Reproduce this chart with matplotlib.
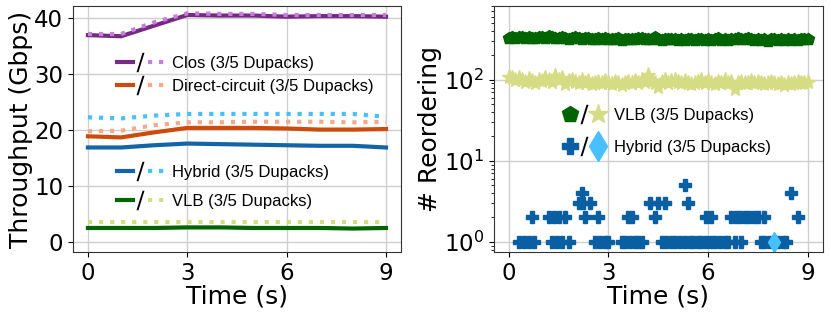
import matplotlib
matplotlib.use("Agg")
import matplotlib.pyplot as plt
from matplotlib.lines import Line2D
from matplotlib.legend_handler import HandlerTuple

# throughput over time (left)
t_sec = [0, 1, 2, 3, 4, 5, 6, 7, 8, 9]
clos_3 = [37.0, 36.8, 38.7, 40.6, 40.5, 40.5, 40.3, 40.4, 40.4, 40.3]
clos_5 = [37.2, 37.2, 39.3, 40.9, 40.8, 40.8, 40.6, 40.6, 40.6, 40.6]
dc_3 = [18.9, 18.7, 19.6, 20.4, 20.4, 20.4, 20.3, 20.1, 20.1, 20.2]
dc_5 = [19.8, 19.9, 20.9, 21.4, 21.4, 21.5, 21.5, 21.5, 21.4, 21.5]
hyb_3 = [16.9, 16.9, 17.3, 17.6, 17.5, 17.4, 17.3, 17.2, 17.2, 16.9]
hyb_5 = [22.3, 22.1, 22.6, 22.9, 22.9, 22.9, 22.9, 22.9, 22.9, 22.4]
vlb_3 = [2.5, 2.5, 2.5, 2.6, 2.6, 2.5, 2.5, 2.5, 2.4, 2.5]
vlb_5 = [3.6, 3.6, 3.6, 3.6, 3.6, 3.6, 3.6, 3.6, 3.6, 3.6]

# reordering counts (right)
t_vlb = [i / 10 for i in range(91)]
reord_vlb_3 = [325, 335, 330, 340, 332, 328, 336, 330, 325, 334,
               338, 330, 345, 333, 328, 330, 336, 326, 322, 330,
               335, 328, 318, 325, 330, 322, 316, 325, 320, 328,
               315, 322, 318, 326, 312, 320, 316, 322, 318, 325,
               330, 318, 314, 320, 335, 318, 312, 320, 316, 322,
               318, 310, 318, 312, 320, 316, 308, 314, 320, 312,
               318, 310, 322, 330, 305, 318, 312, 322, 316, 326,
               320, 314, 325, 318, 312, 320, 310, 316, 300, 322,
               318, 312, 320, 310, 316, 305, 318, 312, 320, 315, 318]
reord_vlb_5 = [108, 104, 100, 106, 98, 95, 102, 96, 92, 100,
               96, 104, 98, 94, 112, 100, 104, 88, 96, 100,
               94, 90, 98, 92, 96, 88, 92, 94, 90, 96,
               92, 88, 95, 90, 86, 92, 94, 90, 96, 92,
               100, 94, 115, 96, 90, 82, 94, 100, 92, 96,
               98, 94, 90, 96, 92, 88, 92, 94, 100, 92,
               96, 90, 88, 94, 92, 98, 92, 95, 76, 90,
               94, 90, 92, 96, 90, 95, 92, 88, 90, 94,
               92, 88, 90, 86, 92, 88, 90, 94, 90, 92, 95]

hyb3_t = [0.3, 0.45, 0.6, 0.75, 1.3, 1.45, 1.6, 1.8, 2.6, 2.75, 2.9, 3.0,
          3.4, 3.5, 3.65, 3.8, 3.9, 4.0, 4.6, 4.75, 4.9, 5.0, 5.15, 5.3,
          5.45, 5.55, 5.7, 5.8, 5.95, 6.1, 6.2, 6.35, 6.5, 6.6, 6.8, 7.0,
          7.6, 7.7, 7.85, 8.1, 8.25, 8.35,
          0.7, 1.2, 1.35, 1.5, 1.7, 2.3, 2.7, 3.6, 3.7, 4.4, 5.95, 6.1,
          6.7, 6.85, 6.95, 7.1, 7.25, 7.4, 7.5, 7.7, 8.7,
          2.1, 2.25, 2.45, 4.25, 4.5, 4.7, 5.4,
          2.2, 8.5,
          5.3]
hyb3_v = [1] * 42 + [2] * 21 + [3] * 7 + [4] * 2 + [5]
hyb5_t = [8.0]
hyb5_v = [1]

fig = plt.figure(figsize=(8.3, 3.19), dpi=100)
ax1 = fig.add_axes([0.088, 0.21, 0.395, 0.771])
ax2 = fig.add_axes([0.595, 0.21, 0.396, 0.771])

c_clos, c_clos5 = "#762a83", "#c77fd8"
c_dc, c_dc5 = "#cc4c0e", "#f7a98a"
c_hyb, c_hyb5 = "#1464a8", "#48c0ff"
c_vlb, c_vlb5 = "#006400", "#d5dc84"

lw = 3
ax1.plot(t_sec, clos_3, color=c_clos, lw=lw)
ax1.plot(t_sec, clos_5, color=c_clos5, lw=lw, ls=":")
ax1.plot(t_sec, dc_3, color=c_dc, lw=lw)
ax1.plot(t_sec, dc_5, color=c_dc5, lw=lw, ls=":")
ax1.plot(t_sec, hyb_3, color=c_hyb, lw=lw)
ax1.plot(t_sec, hyb_5, color=c_hyb5, lw=lw, ls=":")
ax1.plot(t_sec, vlb_3, color=c_vlb, lw=lw)
ax1.plot(t_sec, vlb_5, color=c_vlb5, lw=lw, ls=":")

ax1.set_ylim(-1.8, 42.2)
ax1.set_xticks([0, 3, 6, 9])
ax1.set_yticks([0, 10, 20, 30, 40])
ax1.set_xlabel("Time (s)", fontsize=18, labelpad=0)
ax1.set_ylabel("Throughput (Gbps)", fontsize=18, labelpad=1)
ax1.tick_params(labelsize=16.5)
ax1.grid(True, color="#d0d0d0", lw=1)
ax1.set_axisbelow(True)


def slash():
    return Line2D([], [], ls="none", marker="$/$", color="black", ms=14, mew=0)


def pair(c1, c2):
    return (Line2D([], [], color=c1, lw=lw), slash(),
            Line2D([], [], color=c2, lw=lw, ls=":"))


leg_font = {"family": "Liberation Sans", "size": 12}
leg_kw = dict(frameon=False, prop=leg_font, handlelength=2.8, handletextpad=0.5,
              borderpad=0, borderaxespad=0,
              handler_map={tuple: HandlerTuple(ndivide=None, pad=0)})
leg1 = ax1.legend([pair(c_clos, c_clos5), pair(c_dc, c_dc5)],
                  ["Clos (3/5 Dupacks)", "Direct-circuit (3/5 Dupacks)"],
                  loc="center left", bbox_to_anchor=(0.134, 0.72),
                  labelspacing=0.45, **leg_kw)
ax1.add_artist(leg1)
ax1.legend([pair(c_hyb, c_hyb5), pair(c_vlb, c_vlb5)],
           ["Hybrid (3/5 Dupacks)", "VLB (3/5 Dupacks)"],
           loc="center left", bbox_to_anchor=(0.134, 0.265),
           labelspacing=0.8, **leg_kw)

ax2.plot(t_vlb, reord_vlb_3, ls="none", marker="p", ms=9, color=c_vlb)
ax2.plot(t_vlb, reord_vlb_5, ls="none", marker="*", ms=11, color=c_vlb5)
ax2.plot(hyb3_t, hyb3_v, ls="none", marker="P", ms=9, color="#0a5fa3")
ax2.plot(hyb5_t, hyb5_v, ls="none", marker="d", ms=10, color=c_hyb5)
ax2.set_yscale("log")
ax2.set_ylim(0.75, 810)
ax2.set_xticks([0, 3, 6, 9])
ax2.set_xlabel("Time (s)", fontsize=18, labelpad=0)
ax2.set_ylabel("# Reordering", fontsize=18, labelpad=1)
ax2.tick_params(labelsize=16.5)
ax2.grid(True, which="major", color="#d0d0d0", lw=1)
ax2.set_axisbelow(True)


def mpair(m1, c1, s1, m2, c2, s2):
    return (Line2D([], [], ls="none", marker=m1, color=c1, ms=s1), slash(),
            Line2D([], [], ls="none", marker=m2, color=c2, ms=s2))


ax2.legend([mpair("p", c_vlb, 12, "*", c_vlb5, 15),
            mpair("P", "#0a5fa3", 12, "d", c_hyb5, 15)],
           ["VLB (3/5 Dupacks)", "Hybrid (3/5 Dupacks)"],
           loc="center left", bbox_to_anchor=(0.21, 0.49),
           frameon=False, prop=leg_font, handlelength=2.5, handletextpad=0.55,
           borderpad=0, borderaxespad=0, labelspacing=1.05,
           handler_map={tuple: HandlerTuple(ndivide=None, pad=0)})

for ax in (ax1, ax2):
    for s in ax.spines.values():
        s.set_color("#333333")

fig.savefig("out.png", dpi=100)
